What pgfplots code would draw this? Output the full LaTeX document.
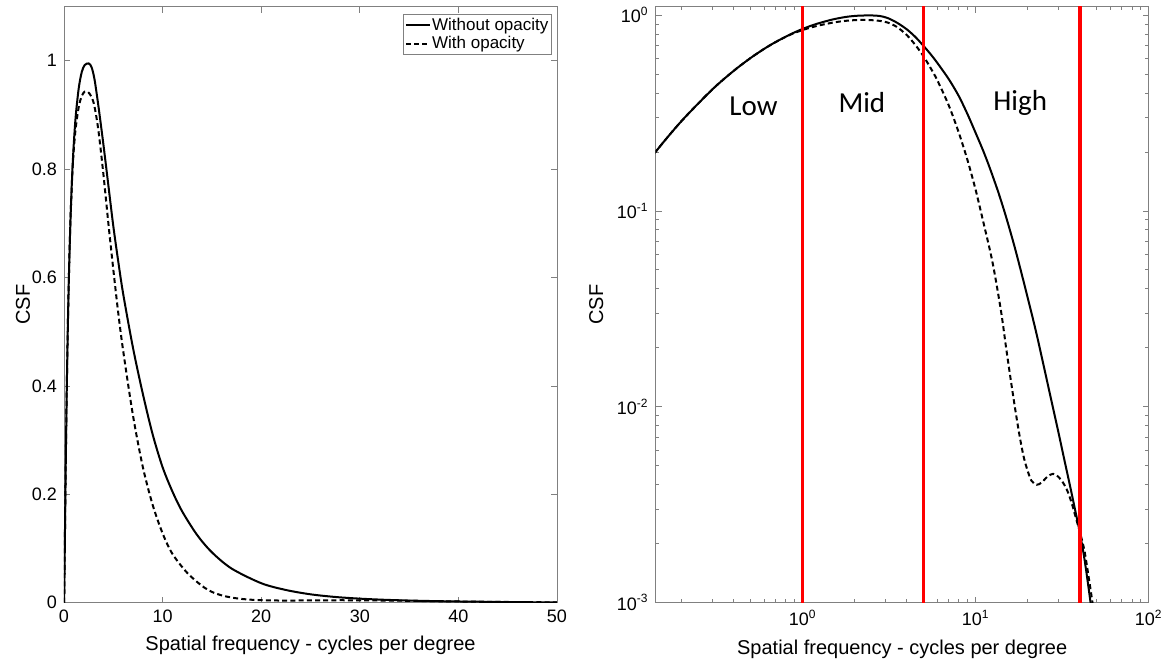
\documentclass[border=0pt]{standalone}
\usepackage{pgfplots}
\pgfplotsset{compat=1.18}
\usepackage{pgfplotstable}
\usepackage{fontspec}
\setmainfont{Liberation Sans}
\newfontfamily\carlito{Carlito}

\pgfplotstableread{
f S
0.002 0.0001
0.005 0.00054
0.01 0.00262
0.02 0.0106
0.04 0.0356
0.07 0.0826
0.1 0.1326
0.14 0.198
0.2 0.288
0.3 0.416
0.4 0.519
0.5 0.603
0.6 0.672
0.7 0.729
0.85 0.797
1.0 0.849
1.2 0.900
1.5 0.950
1.8 0.979
2.1 0.992
2.5 0.995
2.8 0.988
3.1 0.965
3.5 0.915
4.0 0.845
4.5 0.77
5.0 0.695
5.5 0.63
6.0 0.57
7.0 0.47
8.0 0.385
9.0 0.31
10 0.25
11 0.205
12 0.168
13.5 0.125
15 0.093
17 0.063
20 0.036
22.5 0.0235
25 0.0155
27.5 0.0106
30 0.0075
32.5 0.0054
35 0.0040
37.5 0.0030
40 0.00228
42.5 0.00168
45 0.00118
47.5 0.00082
50 0.00056
}\solidtab

\pgfplotstableread{
f S
0.002 0.0001
0.005 0.00054
0.01 0.00262
0.02 0.0106
0.04 0.0356
0.07 0.0826
0.1 0.1326
0.14 0.198
0.2 0.288
0.3 0.416
0.4 0.519
0.5 0.603
0.6 0.672
0.7 0.728
0.85 0.794
1.0 0.838
1.2 0.878
1.5 0.915
1.8 0.935
2.1 0.943
2.4 0.943
2.8 0.933
3.1 0.915
3.5 0.87
4.0 0.79
4.5 0.70
5.0 0.615
5.5 0.535
6.0 0.465
7.0 0.345
8.0 0.25
9.0 0.18
10 0.128
11 0.090
12.5 0.055
14 0.031
15 0.020
16 0.0135
17 0.0095
18 0.0070
19 0.0055
20 0.0047
21 0.0042
22.5 0.0040
24 0.0041
26 0.0044
28 0.00455
30 0.0044
32 0.0041
34 0.0037
36 0.0032
38 0.0027
40 0.0023
42.5 0.00185
45 0.00135
47.5 0.00098
50 0.00070
}\dashtab

\pgfplotsset{
  mystyle/.style={
    scale only axis,
    width=246.5pt, height=298.1pt,
    axis line style={black!50},
    tick style={black!50, line width=0.4pt},
    major tick length=3pt, minor tick length=1.8pt,
    tick align=inside,
    ticklabel style={font=\fontsize{9}{10}\selectfont},
    label style={font=\fontsize{10}{12}\selectfont},
    /pgf/number format/assume math mode=true,
    clip=true,
  },
  solidline/.style={black, line width=1pt},
  dashline/.style={black, line width=1pt, dash pattern=on 2.5pt off 1.6pt},
}

\begin{document}
\begin{tikzpicture}[x=1pt,y=1pt]
\path[use as bounding box] (0,0) rectangle (584.5,-332.5);

\begin{axis}[mystyle,
  at={(32pt,-301.35pt)}, anchor=south west,
  xmin=0, xmax=50, ymin=0, ymax=1.1,
  xtick={0,10,20,30,40,50},
  ytick={0,0.2,0.4,0.6,0.8,1},
  xlabel={Spatial frequency - cycles per degree},
  ylabel={CSF},
  ylabel shift=-6pt,
  legend style={at={(1,1)}, anchor=north east, xshift=-2.5pt, yshift=-3.75pt,
    draw=black!50, font=\fontsize{8.5}{10}\selectfont,
    inner xsep=1pt, inner ysep=0.5pt,
    nodes={inner xsep=0.6pt, inner ysep=1.2pt},
    row sep=-1pt, cells={anchor=west}},
  legend image code/.code={\draw[#1] (0pt,0pt) -- (12pt,0pt);},
]
\addplot[solidline, smooth] table[x=f,y=S] {\solidtab};
\addlegendentry{Without opacity}
\addplot[dashline, smooth] table[x=f,y=S] {\dashtab};
\addlegendentry{With opacity}
\end{axis}

\begin{axis}[mystyle,
  at={(327.85pt,-301.35pt)}, anchor=south west,
  xmode=log, ymode=log,
  xmin=0.1416, xmax=100, ymin=1e-3, ymax=1.105,
  xtick={1,10,100},
  xticklabels={10\textsuperscript{0},10\textsuperscript{1},10\textsuperscript{2}},
  minor xtick={0.2,0.3,0.4,0.5,0.6,0.7,0.8,0.9,2,3,4,5,6,7,8,9,20,30,40,50,60,70,80,90},
  ytick={0.001,0.01,0.1,1},
  yticklabels={10\textsuperscript{-3},10\textsuperscript{-2},10\textsuperscript{-1},10\textsuperscript{0}},
  minor ytick={0.002,0.003,0.004,0.005,0.006,0.007,0.008,0.009,0.02,0.03,0.04,0.05,0.06,0.07,0.08,0.09,0.2,0.3,0.4,0.5,0.6,0.7,0.8,0.9},
  xlabel={Spatial frequency - cycles per degree},
  ylabel={CSF},
]
\addplot[solidline, smooth] table[x=f,y=S] {\solidtab};
\addplot[dashline, smooth] table[x=f,y=S] {\dashtab};
\addplot[red, line width=1.8pt] coordinates {(1,0.0009) (1,1.2)};
\addplot[red, line width=1.8pt] coordinates {(5,0.0009) (5,1.2)};
\addplot[red, line width=1.8pt] coordinates {(40,0.0009) (40,1.2)};
\node[font=\carlito\fontsize{14.5}{16}\selectfont] at (axis cs:0.52,0.343) {Low};
\node[font=\carlito\fontsize{14.5}{16}\selectfont] at (axis cs:2.2,0.357) {Mid};
\node[font=\carlito\fontsize{14.5}{16}\selectfont] at (axis cs:18.1,0.357) {High};
\end{axis}
\end{tikzpicture}
\end{document}
